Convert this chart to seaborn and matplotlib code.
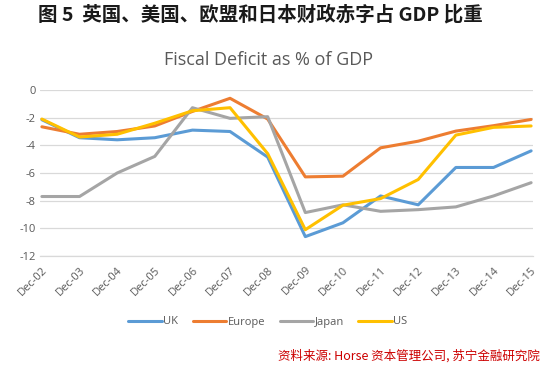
import numpy as np
import pandas as pd
import seaborn as sns
import matplotlib.pyplot as plt

years = ["Dec-02", "Dec-03", "Dec-04", "Dec-05", "Dec-06", "Dec-07", "Dec-08",
         "Dec-09", "Dec-10", "Dec-11", "Dec-12", "Dec-13", "Dec-14", "Dec-15"]
uk = [-2.15, -3.45, -3.6, -3.45, -2.9, -3.0, -4.85, -10.6, -9.6, -7.66, -8.3, -5.6, -5.6, -4.4]
europe = [-2.66, -3.2, -3.0, -2.6, -1.55, -0.6, -2.1, -6.28, -6.23, -4.18, -3.7, -2.97, -2.58, -2.13]
japan = [-7.7, -7.7, -6.0, -4.8, -1.28, -2.05, -1.93, -8.86, -8.3, -8.77, -8.65, -8.45, -7.66, -6.7]
us = [-2.1, -3.4, -3.2, -2.4, -1.5, -1.28, -4.6, -10.1, -8.33, -7.85, -6.47, -3.26, -2.7, -2.6]
series = ["UK", "Europe", "Japan", "US"]
colors = ["#5B9BD5", "#ED7D31", "#A5A5A5", "#FFC000"]

df = pd.DataFrame({
    "idx": np.tile(np.arange(len(years)), 4),
    "value": uk + europe + japan + us,
    "series": np.repeat(series, len(years)),
})

sns.set_theme(style="white")
plt.rcParams["font.family"] = ["Open Sans", "DejaVu Sans"]

fig = plt.figure(figsize=(5.49, 3.67), dpi=100)
ax = fig.add_axes([40 / 549, 1 - 256 / 367, 493 / 549, 166 / 367])

sns.lineplot(data=df, x="idx", y="value", hue="series", hue_order=series,
             palette=colors, linewidth=2.2, ax=ax, legend=False)

ax.set_xlim(-0.05, len(years) - 0.95)
ax.set_ylim(-12, 0)
ax.set_yticks(range(-12, 1, 2))
ax.set_yticklabels([str(v) for v in range(-12, 1, 2)])
ax.set_xticks(range(len(years)))
ax.set_xticklabels(years, rotation=45, ha="right", rotation_mode="anchor")
ax.tick_params(axis="both", labelsize=8, colors="#595959", length=0, pad=3)
ax.tick_params(axis="x", pad=6)
ax.set_xlabel("")
ax.set_ylabel("")
ax.grid(axis="y", color="#D9D9D9", linewidth=0.9)
ax.set_axisbelow(True)
for s in ["top", "right", "left"]:
    ax.spines[s].set_visible(False)
ax.spines["bottom"].set_color("#D9D9D9")
ax.spines["bottom"].set_linewidth(0.9)

# legend
handles = [plt.Line2D([], [], color=c, linewidth=2.2) for c in colors]
fig.legend(handles, series, loc="center", bbox_to_anchor=(268 / 549, 1 - 322 / 367),
           ncol=4, frameon=False, fontsize=8, handlelength=3.0, handletextpad=0.15,
           columnspacing=1.3, labelcolor="#595959")

fig.text(268 / 549, 1 - 60 / 367, "Fiscal Deficit as % of GDP", ha="center", va="center",
         fontsize=13, color="#595959")
fig.text(260 / 549, 1 - 15 / 367, "图 5  英国、美国、欧盟和日本财政赤字占 GDP 比重",
         ha="center", va="center", fontsize=14, fontweight="bold", color="#1a1a1a",
         family=["Noto Sans CJK SC", "DejaVu Sans"])
fig.text(540 / 549, 1 - 356 / 367, "资料来源: Horse 资本管理公司, 苏宁金融研究院",
         ha="right", va="center", fontsize=9, color="#CC0000", style="italic",
         family=["Noto Sans CJK SC", "DejaVu Sans"])

fig.savefig("out.png", dpi=100)
